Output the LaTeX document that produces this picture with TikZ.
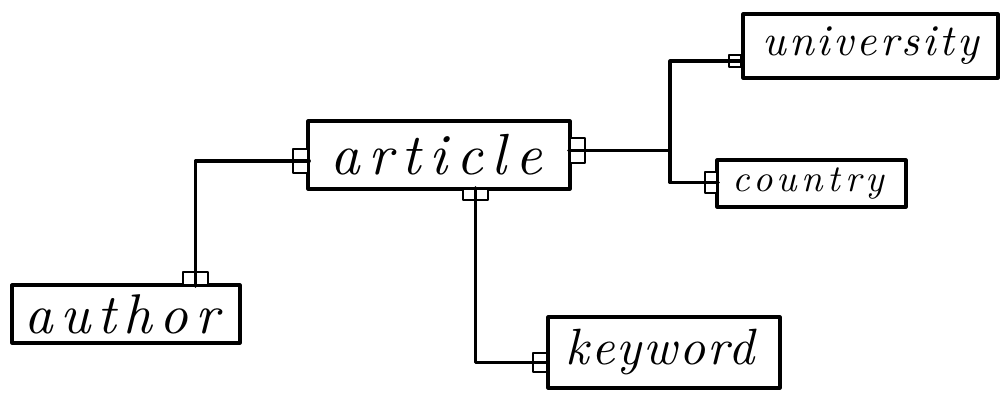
\documentclass[tikz,border=0pt]{standalone}
\usepackage{fontspec}
\newfontfamily\handA{lmroman10-italic.otf}[LetterSpace=15]
\newfontfamily\handB{lmroman10-italic.otf}[LetterSpace=13]
\newfontfamily\handC{lmroman10-italic.otf}[LetterSpace=4]
\newfontfamily\handD{lmroman10-italic.otf}[LetterSpace=7]
\newfontfamily\handE{lmroman10-italic.otf}[LetterSpace=12]
\begin{document}
\begin{tikzpicture}[x=1pt,y=-1pt,
  line cap=round, line join=round,
  box/.style={draw, rectangle, line width=3.2pt, inner sep=0pt},
  port/.style={draw, rectangle, line width=2.6pt, inner sep=0pt, fill=white},
  wire/.style={line width=3.2pt}]
\useasboundingbox (0,0) rectangle (1002,392);
% entity boxes
\node[box, font={\handA\fontsize{58}{60}\selectfont}, minimum width=262pt, minimum height=68pt] (article) at (439,155) {\kern-6pt article};
\node[box, font={\handB\fontsize{56}{58}\selectfont}, minimum width=228pt, minimum height=58pt] (author) at (126,314) {\kern-8pt author};
\node[box, font={\handC\fontsize{51}{53}\selectfont}, minimum width=232pt, minimum height=71pt] (keyword) at (664,352.5) {\kern-8pt keyword};
\node[box, font={\handD\fontsize{44}{46}\selectfont}, minimum width=255pt, minimum height=64pt] (university) at (870.5,46) {university};
\node[box, font={\handE\fontsize{38}{40}\selectfont}, minimum width=189pt, minimum height=47pt] (country) at (811.5,183.5) {\kern-6pt country};
% junction
\coordinate (br) at (670,150.5);
% connectors
\draw[wire] (author.north -| 195.5,0) |- (article.west |- 0,161);
\draw[wire] (article.east |- br) -- (br);
\draw[wire] (br) |- (university.west |- 0,61);
\draw[wire] (br) |- (country.west |- 0,182.5);
\draw[wire] (article.south -| 475.5,0) |- (keyword.west |- 0,362.5);
% ports
\node[port, minimum width=15pt, minimum height=24pt] (aL) at (300.5,161) {};
\node[port, minimum width=15pt, minimum height=25pt] (aR) at (577.5,150.5) {};
\node[port, minimum width=25pt, minimum height=11pt] (aB) at (475.5,194.5) {};
\node[port, minimum width=25pt, minimum height=13pt] (auT) at (195.5,278.5) {};
\node[port, minimum width=14pt, minimum height=19pt] (kL) at (540,362.5) {};
\node[port, minimum width=12pt, minimum height=12pt] (uL) at (735,61) {};
\node[port, minimum width=12pt, minimum height=21pt] (cL) at (711,182.5) {};
% wires through ports
\draw[wire] (aL.west) -- (aL.east);
\draw[wire] (aR.west) -- (aR.east);
\draw[wire] (aB.north) -- (aB.south);
\draw[wire] (auT.north) -- (auT.south);
\draw[wire] (kL.west) -- (kL.east);
\draw[wire] (uL.west) -- (uL.east);
\draw[wire] (cL.west) -- (cL.east);
\end{tikzpicture}
\end{document}
